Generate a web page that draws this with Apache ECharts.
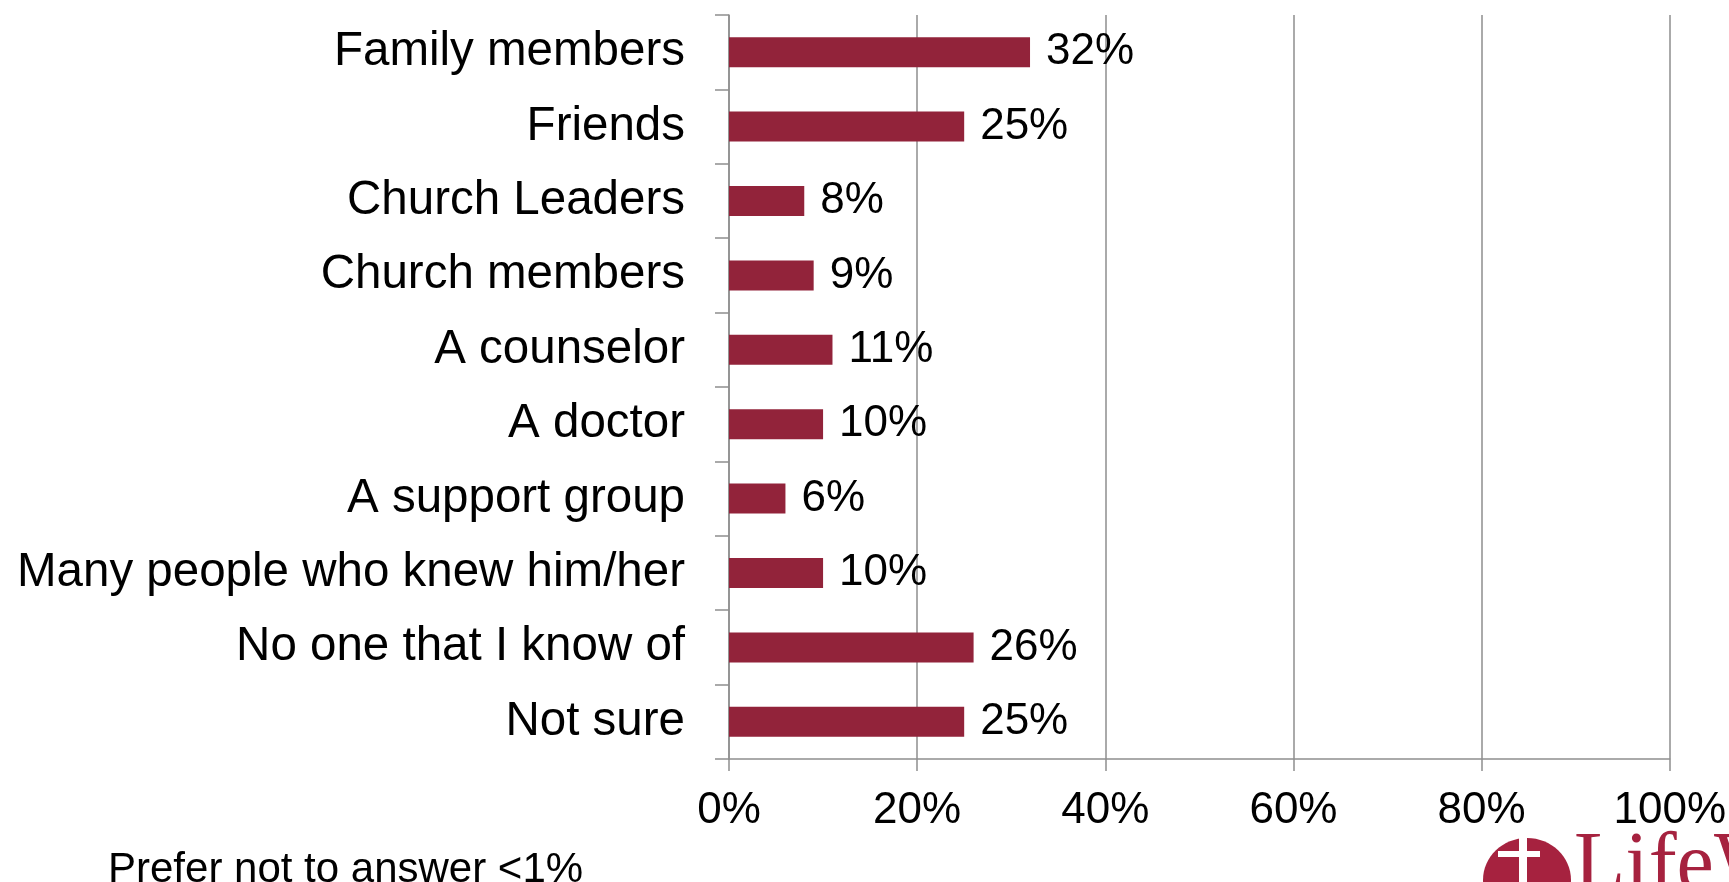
<!DOCTYPE html>
<html><head><meta charset="utf-8">
<style>html,body{margin:0;padding:0;background:#fff}#c{width:1729px;height:882px}</style>
<script src="https://cdn.jsdelivr.net/npm/echarts@6/dist/echarts.min.js"></script>
</head><body><div id="c"></div>
<script>
const categories = ["Family members","Friends","Church Leaders","Church members","A counselor","A doctor","A support group","Many people who knew him/her","No one that I know of","Not sure"];
const values = [32,25,8,9,11,10,6,10,26,25];
const xTicks = [0,20,40,60,80,100];
const footnote = "Prefer not to answer <1%";

const FONT = "'Liberation Sans', Arial, sans-serif";
const chart = echarts.init(document.getElementById('c'), null, {renderer:'canvas'});
chart.setOption({
  animation:false,
  backgroundColor:'#fff',
  grid:{left:729,right:50,top:15,bottom:123,containLabel:false},
  xAxis:{type:'value',min:0,max:100,interval:20,
    axisLine:{show:true,lineStyle:{color:'#8e8e8e',width:1.5}},
    axisTick:{show:true,length:12,lineStyle:{color:'#8e8e8e',width:1.5}},
    splitLine:{show:true,lineStyle:{color:'#8e8e8e',width:1.5}},
    axisLabel:{formatter:v=>v+'%',fontSize:44,fontFamily:FONT,color:'#000',margin:30}
  },
  yAxis:{type:'category',inverse:true,data:categories,
    axisLine:{show:true,lineStyle:{color:'#8e8e8e',width:1.5}},
    axisTick:{show:true,length:14,lineStyle:{color:'#8e8e8e',width:1.5}},
    axisLabel:{fontSize:47.5,fontFamily:FONT,color:'#000',margin:44,padding:[6,0,0,0]}
  },
  series:[{type:'bar',data:values,barWidth:30,
    itemStyle:{color:'#92233A'},
    label:{show:true,position:'right',distance:16,formatter:p=>p.value+'%',fontSize:44,fontFamily:FONT,color:'#000'}
  }],
  graphic:[
    {type:'text',left:108,top:849,style:{text:footnote,fontSize:42,fontFamily:FONT,fill:'#000'}},
    {type:'ellipse',shape:{cx:1527,cy:880,rx:44,ry:42},style:{fill:'#A6223F'}},
    {type:'rect',shape:{x:1519,y:838,width:8,height:44},style:{fill:'#fff'}},
    {type:'rect',shape:{x:1498,y:851,width:42,height:6},style:{fill:'#fff'}},
    {type:'text',x:1574,y:826,style:{text:'LifeWay',fontSize:84,fontFamily:"'Liberation Serif', serif",fill:'#A6223F'}}
  ]
});
</script></body></html>
